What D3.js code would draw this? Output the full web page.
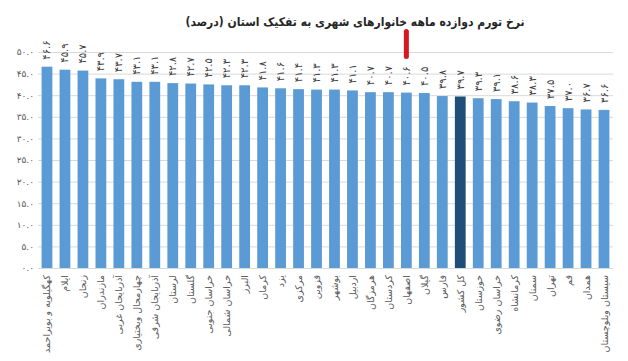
<!DOCTYPE html>
<html><head><meta charset="utf-8">
<script src="https://cdn.jsdelivr.net/npm/d3@7"></script>
<style>
html,body{margin:0;padding:0;background:#fff;}
svg{display:block;}
</style></head>
<body>
<svg id="chart" width="628" height="361"></svg>
<script>
const title = "نرخ تورم دوازده ماهه خانوارهای شهری به تفکیک استان (درصد)";
const categories = ["کهگیلویه و بویراحمد","ایلام","زنجان","مازندران","آذربایجان غربی","چهارمحال وبختیاری","آذربایجان شرقی","لرستان","گلستان","خراسان جنوبی","خراسان شمالی","البرز","کرمان","یزد","مرکزی","قزوین","بوشهر","اردبیل","هرمزگان","کردستان","اصفهان","گیلان","فارس","کل کشور","خوزستان","خراسان رضوی","کرمانشاه","سمنان","تهران","قم","همدان","سیستان وبلوچستان"];
const values = [46.6,45.9,45.7,43.9,43.7,43.1,43.1,42.8,42.7,42.5,42.3,42.3,41.8,41.6,41.4,41.3,41.3,41.1,40.7,40.7,40.6,40.5,39.8,39.7,39.3,39.1,38.6,38.3,37.5,37.0,36.7,36.6];
const highlighted = ["کل کشور"];
const markerCategory = "اصفهان";
const yTicks = [0,5,10,15,20,25,30,35,40,45,50];

const fa = s => String(s).replace(/[0-9]/g, d => "۰۱۲۳۴۵۶۷۸۹"[+d]);
const svg = d3.select("#chart");
const font = "'DejaVu Sans', 'Noto Sans', sans-serif";

const x = d3.scaleBand().domain(categories).range([38, 613]).paddingInner(0.4).paddingOuter(0.2);
const y = d3.scaleLinear().domain([0, 50]).range([268, 52]);

// gridlines
svg.append("g").selectAll("line").data(yTicks).join("line")
  .attr("x1", 38).attr("x2", 613)
  .attr("y1", d => y(d) + 0.5).attr("y2", d => y(d) + 0.5)
  .attr("stroke", "#d9d9d9").attr("stroke-width", 1);

// y axis labels
const yAxis = d3.axisLeft(y).tickValues(yTicks).tickSize(0).tickPadding(0)
  .tickFormat(d => fa(d.toFixed(1)));
const ya = svg.append("g").attr("transform", "translate(34,0)").call(yAxis);
ya.select(".domain").remove();
ya.selectAll("text").attr("font-family", font).attr("font-size", 9).attr("fill", "#595959");

// bars
svg.append("g").selectAll("rect").data(values).join("rect")
  .attr("x", (d, i) => x(categories[i]))
  .attr("width", x.bandwidth())
  .attr("y", d => y(d))
  .attr("height", d => y(0) - y(d))
  .attr("fill", (d, i) => highlighted.includes(categories[i]) ? "#1f4e79" : "#5b9bd5");

// value labels
svg.append("g").selectAll("text").data(values).join("text")
  .attr("transform", (d, i) => `translate(${x(categories[i]) + x.bandwidth() / 2 + 3.5},${y(d) - 7}) rotate(-90)`)
  .attr("text-anchor", "start")
  .attr("font-family", font).attr("font-size", 10).attr("fill", "#404040")
  .text(d => fa(d.toFixed(1)));

// category labels
svg.append("g").selectAll("text").data(categories).join("text")
  .attr("transform", d => `translate(${x(d) + x.bandwidth() / 2 + 3.5},275) rotate(-90)`)
  .attr("text-anchor", "end")
  .attr("font-family", font).attr("font-size", 9.5).attr("fill", "#595959")
  .text(d => d);

// red marker (drawn behind the title)
svg.append("rect")
  .attr("x", x(markerCategory) + x.bandwidth() / 2 - 2.5).attr("y", 29)
  .attr("width", 5).attr("height", 30).attr("rx", 2.5)
  .attr("fill", "#d7191f");

// title
svg.append("text").attr("x", 355).attr("y", 26).attr("text-anchor", "middle")
  .attr("font-family", "'DejaVu Sans Condensed', 'DejaVu Sans', sans-serif")
  .attr("font-size", 12).attr("font-weight", "bold").attr("fill", "#262626")
  .text(title);
</script>
</body></html>
